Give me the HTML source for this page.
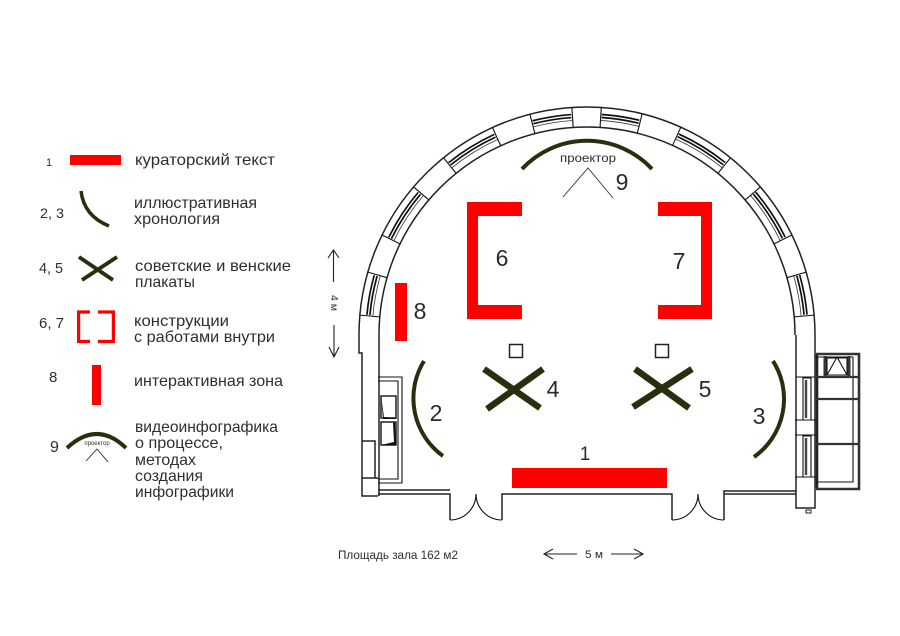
<!DOCTYPE html>
<html lang="ru"><head><meta charset="utf-8"><title>План зала</title>
<style>
html,body{margin:0;padding:0;background:#fff}
svg{display:block}
text{font-family:"Liberation Sans",sans-serif;fill:#2e2e2e}
.leg{font-size:16px}
.big{font-size:23px;text-anchor:middle;fill:#2a2a2a}
.w1{fill:none;stroke:#333;stroke-width:.8}
.w2{fill:none;stroke:#111;stroke-width:1.7}
.l{fill:none;stroke:#111;stroke-width:1.1}
.m{fill:none;stroke:#222;stroke-width:1.5}
.d{fill:none;stroke:#2b2e0e;stroke-linecap:butt}
</style></head><body>
<svg width="900" height="636" viewBox="0 0 900 636" xmlns="http://www.w3.org/2000/svg">
<rect width="900" height="636" fill="#fff"/>

<!-- Curved wall -->
<path class="m" d="M359 335A228 228 0 0 1 815 335"/>
<path class="m" d="M379 335A208 208 0 0 1 795 335"/>
<g class="l">
<line x1="587" y1="127" x2="587" y2="107" transform="rotate(-85 587 335)"/>
<line x1="587" y1="127" x2="587" y2="107" transform="rotate(-74 587 335)"/>
<line x1="587" y1="127" x2="587" y2="107" transform="rotate(-64 587 335)"/>
<line x1="587" y1="127" x2="587" y2="107" transform="rotate(-49.5 587 335)"/>
<line x1="587" y1="127" x2="587" y2="107" transform="rotate(-39 587 335)"/>
<line x1="587" y1="127" x2="587" y2="107" transform="rotate(-24.5 587 335)"/>
<line x1="587" y1="127" x2="587" y2="107" transform="rotate(-14.5 587 335)"/>
<line x1="587" y1="127" x2="587" y2="107" transform="rotate(-3.8 587 335)"/>
<line x1="587" y1="127" x2="587" y2="107" transform="rotate(3.6 587 335)"/>
<line x1="587" y1="127" x2="587" y2="107" transform="rotate(14 587 335)"/>
<line x1="587" y1="127" x2="587" y2="107" transform="rotate(24.3 587 335)"/>
<line x1="587" y1="127" x2="587" y2="107" transform="rotate(39 587 335)"/>
<line x1="587" y1="127" x2="587" y2="107" transform="rotate(49.5 587 335)"/>
<line x1="587" y1="127" x2="587" y2="107" transform="rotate(64 587 335)"/>
<line x1="587" y1="127" x2="587" y2="107" transform="rotate(74 587 335)"/>
<line x1="587" y1="127" x2="587" y2="107" transform="rotate(85 587 335)"/>
</g>
<!-- Windows -->
<g>
<circle class="w2" cx="587" cy="335" r="221" pathLength="360" stroke-dasharray="10.4 349.6" transform="rotate(-174.7 587 335)"/>
<circle class="w2" cx="587" cy="335" r="218" pathLength="360" stroke-dasharray="10.4 349.6" transform="rotate(-174.7 587 335)"/>
<circle class="w1" cx="587" cy="335" r="215" pathLength="360" stroke-dasharray="11 349" transform="rotate(-175 587 335)"/>
<circle class="w2" cx="587" cy="335" r="221" pathLength="360" stroke-dasharray="13.9 346.1" transform="rotate(-153.7 587 335)"/>
<circle class="w2" cx="587" cy="335" r="218" pathLength="360" stroke-dasharray="13.9 346.1" transform="rotate(-153.7 587 335)"/>
<circle class="w1" cx="587" cy="335" r="215" pathLength="360" stroke-dasharray="14.5 345.5" transform="rotate(-154 587 335)"/>
<circle class="w2" cx="587" cy="335" r="221" pathLength="360" stroke-dasharray="13.9 346.1" transform="rotate(-128.7 587 335)"/>
<circle class="w2" cx="587" cy="335" r="218" pathLength="360" stroke-dasharray="13.9 346.1" transform="rotate(-128.7 587 335)"/>
<circle class="w1" cx="587" cy="335" r="215" pathLength="360" stroke-dasharray="14.5 345.5" transform="rotate(-129 587 335)"/>
<circle class="w2" cx="587" cy="335" r="221" pathLength="360" stroke-dasharray="10.1 349.9" transform="rotate(-104.2 587 335)"/>
<circle class="w2" cx="587" cy="335" r="218" pathLength="360" stroke-dasharray="10.1 349.9" transform="rotate(-104.2 587 335)"/>
<circle class="w1" cx="587" cy="335" r="215" pathLength="360" stroke-dasharray="10.7 349.3" transform="rotate(-104.5 587 335)"/>
<circle class="w2" cx="587" cy="335" r="221" pathLength="360" stroke-dasharray="9.8 350.2" transform="rotate(-86.1 587 335)"/>
<circle class="w2" cx="587" cy="335" r="218" pathLength="360" stroke-dasharray="9.8 350.2" transform="rotate(-86.1 587 335)"/>
<circle class="w1" cx="587" cy="335" r="215" pathLength="360" stroke-dasharray="10.4 349.6" transform="rotate(-86.4 587 335)"/>
<circle class="w2" cx="587" cy="335" r="221" pathLength="360" stroke-dasharray="14.1 345.9" transform="rotate(-65.4 587 335)"/>
<circle class="w2" cx="587" cy="335" r="218" pathLength="360" stroke-dasharray="14.1 345.9" transform="rotate(-65.4 587 335)"/>
<circle class="w1" cx="587" cy="335" r="215" pathLength="360" stroke-dasharray="14.7 345.3" transform="rotate(-65.7 587 335)"/>
<circle class="w2" cx="587" cy="335" r="221" pathLength="360" stroke-dasharray="13.9 346.1" transform="rotate(-40.2 587 335)"/>
<circle class="w2" cx="587" cy="335" r="218" pathLength="360" stroke-dasharray="13.9 346.1" transform="rotate(-40.2 587 335)"/>
<circle class="w1" cx="587" cy="335" r="215" pathLength="360" stroke-dasharray="14.5 345.5" transform="rotate(-40.5 587 335)"/>
<circle class="w2" cx="587" cy="335" r="221" pathLength="360" stroke-dasharray="10.4 349.6" transform="rotate(-15.7 587 335)"/>
<circle class="w2" cx="587" cy="335" r="218" pathLength="360" stroke-dasharray="10.4 349.6" transform="rotate(-15.7 587 335)"/>
<circle class="w1" cx="587" cy="335" r="215" pathLength="360" stroke-dasharray="11 349" transform="rotate(-16 587 335)"/>
</g>

<!-- Left wall -->
<path class="m" d="M359 335V353H362V496H378M379 335V496"/>
<path class="m" d="M362 441H375V478H362M362 478H378"/>
<path class="l" d="M378 377H402V483H378M378 381H398V479H378"/>
<path class="m" d="M381 396H396V418H381ZM381 422H396V445H381Z"/>
<path fill="#111" d="M381 396L384 417L396 418V419L383 419ZM381 445L396 445L395 422L393 423L394 442Z"/>

<!-- Bottom wall and doors -->
<path class="m" d="M378 490H450M378 494H450V520"/>
<path class="l" d="M450 520A26 26 0 0 0 476 494A26 26 0 0 0 502 520"/>
<path class="m" d="M502 520V494H672V520"/>
<path class="l" d="M672 520A26 26 0 0 0 698 494A26 26 0 0 0 724 520"/>
<path class="m" d="M724 520V491H796M724 494H796"/>

<!-- Right wall -->
<path class="m" d="M796 335V508H815V354M815 335V354"/>
<path class="l" d="M796 377H815M795 420H816M795 435H816M795 477H816"/>
<rect x="806" y="510" width="5" height="3" fill="none" stroke="#222"/>
<path class="l" d="M803 378H811V420H803ZM803 436H811V477H803Z"/>
<path stroke="#444" stroke-width="2.4" fill="none" d="M806 380V418M806 438V475"/>
<path stroke="#222" stroke-width="2.6" fill="none" d="M817 354V488"/>

<!-- Side annex -->
<path fill="none" stroke="#333" stroke-width="2.6" d="M816 354H859V489H816"/>
<path class="l" d="M853 357V482H818M816 357H853"/>
<path fill="none" stroke="#333" stroke-width="2.2" d="M816 377H858M816 399H858M816 444H858"/>
<path class="l" d="M827 358H847V375H827ZM837 357L827 375M837 357L847 375"/>
<path stroke="#333" stroke-width="3" fill="none" d="M825 356V377M849 356V377"/>

<!-- Exhibit shapes -->
<g fill="#ff0000">
<rect x="512" y="468" width="155" height="20"/>
<path d="M467 202H522V216H478V305H522V319H467Z"/>
<path d="M658 202H712V319H658V305H701V216H658Z"/>
<rect x="395" y="283" width="12" height="58"/>
</g>
<path class="d" stroke-width="4" d="M522 169A89 89 0 0 1 652 169"/>
<path class="d" stroke-width="4" d="M424 361A71 71 0 0 0 443 456"/>
<path class="d" stroke-width="4" d="M773 361A71 71 0 0 1 754 457"/>
<path class="d" stroke-width="6.5" d="M484 369L540 408M543 369L487 409"/>
<path class="d" stroke-width="6.5" d="M635 369L689 408M692 369L633 407"/>
<rect x="509.5" y="344.5" width="13" height="13" class="m"/>
<rect x="655.5" y="344.5" width="13" height="13" class="m"/>
<path fill="none" stroke="#333" stroke-width="0.9" d="M563 197L588 168L613 198"/>
<text x="588" y="162" text-anchor="middle" font-size="12" textLength="56" lengthAdjust="spacingAndGlyphs">проектор</text>

<!-- Plan labels -->
<text class="big" x="585" y="460" style="font-size:19px">1</text>
<text class="big" x="436" y="421">2</text>
<text class="big" x="759" y="424">3</text>
<text class="big" x="553" y="397">4</text>
<text class="big" x="705" y="397">5</text>
<text class="big" x="502" y="266">6</text>
<text class="big" x="679" y="269">7</text>
<text class="big" x="420" y="319">8</text>
<text class="big" x="622" y="190">9</text>

<!-- Dimensions -->
<path fill="none" stroke="#222" stroke-width="1.1" d="M328 258L333.5 250L339 258M333.5 251V282M334 325V356M329 347L334 357L339 347"/>
<text transform="translate(331 303) rotate(90)" x="0" y="0" font-size="10.5" text-anchor="middle">4 м</text>
<path fill="none" stroke="#222" stroke-width="1.1" d="M553 549L544 554L553 559M545 554H577M611 554H643M634 549L643 554L634 559"/>
<text x="585" y="558" font-size="11" textLength="18" lengthAdjust="spacingAndGlyphs">5 м</text>
<text x="338" y="559" font-size="11.5" textLength="120" lengthAdjust="spacingAndGlyphs">Площадь зала 162 м2</text>

<!-- Legend numbers -->
<text x="46" y="166" font-size="11">1</text>
<text x="40" y="218" font-size="13.5" textLength="24" lengthAdjust="spacingAndGlyphs">2, 3</text>
<text x="39" y="273" font-size="14.5" textLength="24" lengthAdjust="spacingAndGlyphs">4, 5</text>
<text x="39" y="328" font-size="14.5" textLength="25" lengthAdjust="spacingAndGlyphs">6, 7</text>
<text x="49" y="382" font-size="15">8</text>
<text x="50" y="452" font-size="16">9</text>

<!-- Legend symbols -->
<rect x="70" y="155" width="51" height="10" fill="#ff0000"/>
<path class="d" stroke-width="3.5" d="M81 191Q84 216 109 226"/>
<path class="d" stroke-width="3.8" d="M79 257L113 280M117 257L82 280"/>
<path fill="none" stroke="#ff0000" stroke-width="3.2" d="M90 312H78.6V341.5H90M98 312H113.4V341.5H98"/>
<rect x="92" y="365" width="9" height="40" fill="#ff0000"/>
<path class="d" stroke-width="4" d="M67 448Q97 420 126 448"/>
<text x="97" y="445" font-size="6" text-anchor="middle" fill="#555">проектор</text>
<path fill="none" stroke="#222" stroke-width="0.9" d="M86 461L97 449L108 462"/>

<!-- Legend text -->
<text class="leg" x="135" y="165" textLength="140" lengthAdjust="spacingAndGlyphs">кураторский текст</text>
<text class="leg" x="134" y="208" textLength="123" lengthAdjust="spacingAndGlyphs">иллюстративная</text>
<text class="leg" x="134" y="224" textLength="86" lengthAdjust="spacingAndGlyphs">хронология</text>
<text class="leg" x="135" y="271" textLength="156" lengthAdjust="spacingAndGlyphs">советские и венские</text>
<text class="leg" x="135" y="287" textLength="60" lengthAdjust="spacingAndGlyphs">плакаты</text>
<text class="leg" x="134" y="326" textLength="95" lengthAdjust="spacingAndGlyphs">конструкции</text>
<text class="leg" x="134" y="342" textLength="141" lengthAdjust="spacingAndGlyphs">с работами внутри</text>
<text class="leg" x="134" y="386" textLength="149" lengthAdjust="spacingAndGlyphs">интерактивная зона</text>
<text class="leg" x="135" y="432" textLength="143" lengthAdjust="spacingAndGlyphs">видеоинфографика</text>
<text class="leg" x="135" y="448" textLength="88" lengthAdjust="spacingAndGlyphs">о процессе,</text>
<text class="leg" x="135" y="465" textLength="61" lengthAdjust="spacingAndGlyphs">методах</text>
<text class="leg" x="135" y="481" textLength="68" lengthAdjust="spacingAndGlyphs">создания</text>
<text class="leg" x="135" y="497" textLength="99" lengthAdjust="spacingAndGlyphs">инфографики</text>
</svg>
</body></html>
